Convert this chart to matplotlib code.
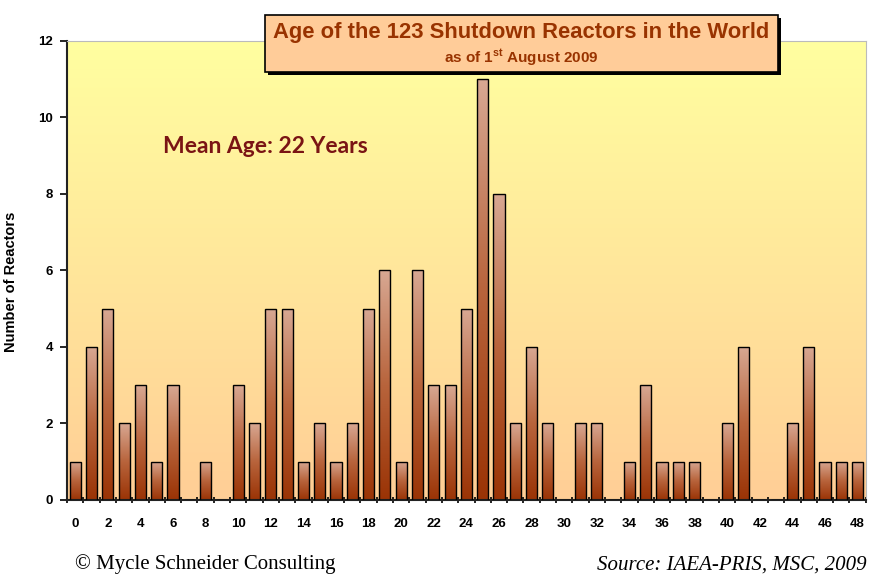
import numpy as np
import matplotlib
matplotlib.use("Agg")
import matplotlib.pyplot as plt
from matplotlib.colors import LinearSegmentedColormap
from matplotlib.patches import FancyBboxPatch

# --- datos: edad de los reactores cerrados (años) y número de reactores ---
edades = list(range(0, 49))
reactores = [1, 4, 5, 2, 3, 1, 3, 0, 1, 0,
             3, 2, 5, 5, 1, 2, 1, 2, 5, 6,
             1, 6, 3, 3, 5, 11, 8, 2, 4, 2,
             0, 2, 2, 0, 1, 3, 1, 1, 1, 0,
             2, 4, 0, 0, 2, 4, 1, 1, 1]
ticks_y = [0, 2, 4, 6, 8, 10, 12]
etiquetas_x = list(range(0, 49, 2))

titulo = "Age of the 123 Shutdown Reactors in the World"
subtitulo = "as of 1$^{\\rm st}$ August 2009"
texto_media = "Mean Age: 22 Years"

plt.rcParams['font.family'] = ['Liberation Sans', 'DejaVu Sans']
plt.rcParams['mathtext.fontset'] = 'custom'
plt.rcParams['mathtext.rm'] = 'Liberation Sans:bold'
plt.rcParams['mathtext.bf'] = 'Liberation Sans:bold'

fig = plt.figure(figsize=(8.71, 5.76), dpi=100)
ax = fig.add_axes([0.077, 0.132, 0.917, 0.797])

# fondo degradado (amarillo arriba, melocotón abajo)
fondo_cmap = LinearSegmentedColormap.from_list("fondo", ["#FFCE96", "#FFFFA0"])
grad = np.linspace(0, 1, 256).reshape(-1, 1)
ax.imshow(grad, extent=[-0.5, 48.5, 0, 12], origin="lower", aspect="auto",
          cmap=fondo_cmap, zorder=0)

# barras con degradado
barra_cmap = LinearSegmentedColormap.from_list("barra", ["#9A3305", "#B8643C", "#D8A893"])
barras = ax.bar(edades, reactores, width=0.68, facecolor="none",
                edgecolor="black", linewidth=1.0, zorder=3)
for b in barras:
    if b.get_height() == 0:
        continue
    x0 = b.get_x()
    im = ax.imshow(grad, extent=[x0, x0 + b.get_width(), 0, b.get_height()],
                   origin="lower", aspect="auto", cmap=barra_cmap, zorder=2)
    im.set_clip_path(b)

ax.set_xlim(-0.5, 48.5)
ax.set_ylim(0, 12)

ax.set_yticks(ticks_y)
ax.set_yticklabels([str(t) for t in ticks_y], fontsize=9.5, fontweight="bold")
ax.set_xticks(etiquetas_x)
ax.set_xticklabels([str(t) for t in etiquetas_x], fontsize=9.5, fontweight="bold")
ax.set_xticks(np.arange(-0.5, 49, 1), minor=True)
ax.tick_params(axis="x", which="major", length=0, pad=13)
ax.tick_params(axis="x", which="minor", length=4, width=1.2, direction="inout")
ax.tick_params(axis="y", length=5, width=1.2, pad=5)

for lado in ["left", "bottom"]:
    ax.spines[lado].set_linewidth(1.5)
    ax.spines[lado].set_color("#222222")
for lado in ["top", "right"]:
    ax.spines[lado].set_color("#BBBBBB")
    ax.spines[lado].set_linewidth(0.8)

ax.set_ylabel("Number of Reactors", fontsize=10.5, fontweight="bold")
ax.yaxis.set_label_coords(-0.061, 0.475)

# caja del título con sombra
caja_sombra = FancyBboxPatch((0.308, 0.869), 0.589, 0.099, boxstyle="square,pad=0",
                             transform=fig.transFigure, facecolor="black",
                             edgecolor="none", zorder=5)
caja = FancyBboxPatch((0.304, 0.875), 0.589, 0.099, boxstyle="square,pad=0",
                      transform=fig.transFigure, facecolor="#FFCC99",
                      edgecolor="black", linewidth=1.2, zorder=6)
fig.patches.extend([caja_sombra, caja])
fig.text(0.5985, 0.943, titulo, ha="center", va="center", fontsize=15.8,
         fontweight="bold", color="#993300", zorder=7)
fig.text(0.5985, 0.899, subtitulo, ha="center", va="center", fontsize=11,
         fontweight="bold", color="#993300", zorder=7)

ax.text(0.12, 0.755, texto_media, transform=ax.transAxes, fontsize=16.5,
        fontweight="bold", color="#7A1414", family=["Lato", "DejaVu Sans"], zorder=4)

# pie de página
fig.text(0.086, 0.003, "© Mycle Schneider Consulting", fontsize=15,
         family=["Liberation Serif", "DejaVu Serif"], ha="left", va="bottom")
fig.text(0.995, 0.003, "Source: IAEA-PRIS, MSC, 2009", fontsize=15, style="italic",
         family=["Liberation Serif", "DejaVu Serif"], ha="right", va="bottom")

fig.savefig("out.png", dpi=100)
